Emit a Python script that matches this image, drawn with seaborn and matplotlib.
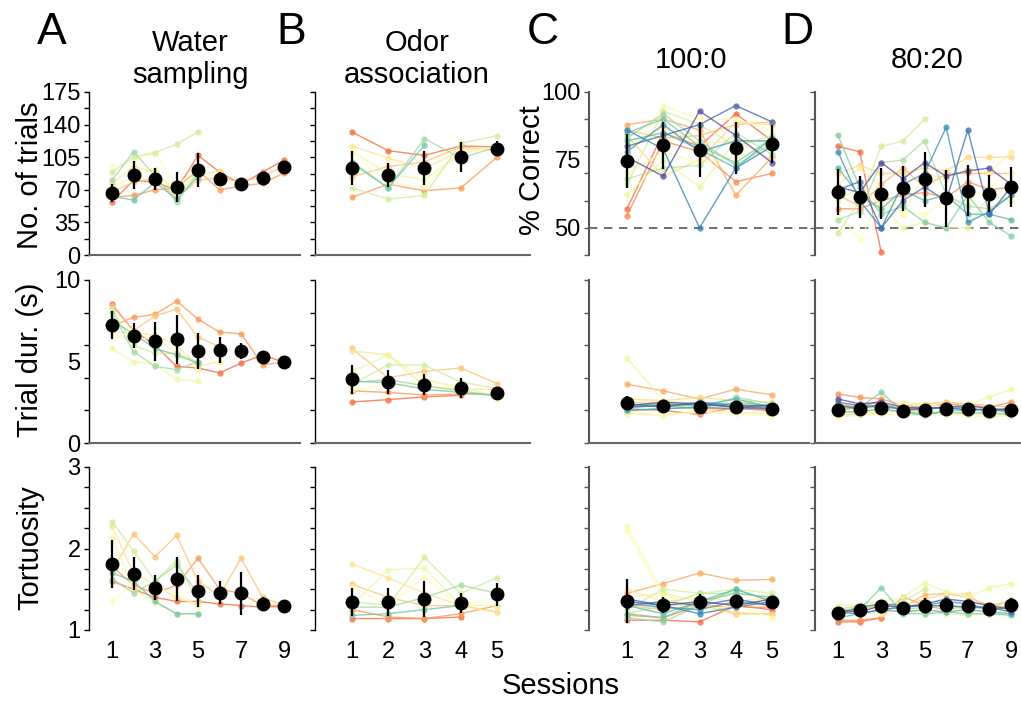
import numpy as np
import pandas as pd
import matplotlib
matplotlib.use("Agg")
import matplotlib.pyplot as plt
import seaborn as sns

sns.set_style("white")
plt.rcParams["font.family"] = ["Liberation Sans", "DejaVu Sans"]
plt.rcParams["text.color"] = "black"
plt.rcParams["axes.labelcolor"] = "black"
plt.rcParams["xtick.color"] = "black"
plt.rcParams["ytick.color"] = "black"

nan = np.nan

# ---------------- Water sampling (A) ----------------
ws_sessions = [1, 2, 3, 4, 5, 6, 7, 8, 9]
ws_trials_mean = [66.6, 86, 81.6, 73, 91, 81.6, 76, 82.7, 94.5]
ws_trials_err = [10, 15, 12, 16, 18, 7, 4, 4, 5]
ws_trials = [
    [57, 80, 78, 70, 107, 89, 76, 89, 102],
    [62, 64, 70, 72, 91, 70, 74, 77, 88],
    [68, 78, 82, 62, 80, 83, 78, 85, 95],
    [77, 95, 89, 68, 86, 90],
    [95.6, 100, 110, 75, 92],
    [72, 85, 92, 64, 90],
    [89, 105, 110, 119, 132],
    [80, 111, 85, 57, 88],
    [63, 59, 78, 60, 84],
]
ws_dur_mean = [7.23, 6.58, 6.25, 6.35, 5.66, 5.7, 5.66, 5.29, 4.94]
ws_dur_err = [0.87, 0.76, 1.2, 1.5, 1.1, 0.8, 0.5, 0.35, 0.0]
ws_dur = [
    [8.5, 6.9, 6.0, 4.7, 4.6, 4.3, 4.9, 5.4, 4.95],
    [7.2, 7.7, 7.9, 8.7, 7.6, 6.8, 6.7, 4.8, 4.95],
    [8.4, 6.9, 7.8, 8.2, 6.5, 5.9],
    [6.8, 6.8, 6.6, 6.0, 4.7, 5.0],
    [6.6, 6.3, 6.5, 5.5, 4.5],
    [5.8, 5.0, 4.8, 3.9, 3.8],
    [8.2, 6.0, 5.5, 5.5, 5.0],
    [8.0, 5.6, 4.7, 4.5, 5.0],
    [7.5, 6.7, 5.8, 5.4, 4.9],
]
ws_tort_mean = [1.81, 1.69, 1.52, 1.62, 1.48, 1.46, 1.45, 1.32, 1.29]
ws_tort_err = [0.29, 0.2, 0.15, 0.27, 0.2, 0.14, 0.26, 0.08, 0.0]
ws_tort = [
    [1.6, 1.5, 1.4, 1.35, 1.35, 1.32, 1.3, 1.28, 1.29],
    [1.78, 1.55, 1.45, 1.55, 1.88, 1.5, 1.45, 1.3, 1.3],
    [1.72, 2.18, 1.9, 2.16, 1.6, 1.42, 1.88, 1.4, 1.3],
    [2.27, 1.7, 1.55, 1.4, 1.3],
    [1.35, 1.6, 1.5, 1.45, 1.3],
    [2.13, 1.5, 1.33, 1.2, 1.2],
    [2.33, 1.97, 1.6, 1.85, 1.35],
    [1.63, 1.45, 1.6, 1.8, 1.45],
    [1.7, 1.6, 1.35, 1.2, 1.2],
]

# ---------------- Odor association (B) ----------------
oa_sessions = [1, 2, 3, 4, 5]
oa_trials_mean = [93.5, 86, 93.5, 105, 114]
oa_trials_err = [18, 13, 18, 16, 8]
oa_trials = [
    [132, 112, 107, 117, 116],
    [62, 76, 69, 72, 105],
    [84, 95, 100, 116, 112],
    [117, 104, 93, 112, 116],
    [109, 78, 73, 112, 115],
    [112, 87, 81, 109, 116],
    [72, 60, 64, 120, 128],
    [98, 72, 125, 104, 116],
    [100, 72, 118],
]
oa_dur_mean = [3.91, 3.75, 3.57, 3.36, 3.09]
oa_dur_err = [0.9, 0.75, 0.65, 0.6, 0.2]
oa_dur = [
    [2.52, 2.66, 2.83, 2.93],
    [3.2, 3.1, 2.95, 3.0, 3.0],
    [5.8, 4.0, 4.4, 4.6, 3.65],
    [5.65, 5.4, 3.5, 3.3, 3.3],
    [3.3, 3.5, 3.7, 3.5, 2.7],
    [4.36, 5.4, 3.9, 3.4, 2.9],
    [3.6, 4.8, 4.77, 3.75, 3.34],
    [3.7, 3.9, 3.5, 3.2, 2.9],
    [3.8, 3.7, 3.3, 3.1, 2.9],
]
oa_tort_mean = [1.34, 1.34, 1.38, 1.33, 1.44]
oa_tort_err = [0.17, 0.17, 0.22, 0.12, 0.14]
oa_tort = [
    [1.14, 1.14, 1.14, 1.16],
    [1.25, 1.16, 1.14, 1.2, 1.3],
    [1.56, 1.4, 1.3, 1.3, 1.22],
    [1.81, 1.64, 1.45, 1.3, 1.22],
    [1.53, 1.3, 1.65, 1.3, 1.4],
    [1.3, 1.74, 1.76, 1.3, 1.3],
    [1.35, 1.3, 1.89, 1.45, 1.64],
    [1.28, 1.28, 1.4, 1.55, 1.45],
    [1.18, 1.2, 1.25, 1.3],
]

# ---------------- 100:0 (C) ----------------
c100_sessions = [1, 2, 3, 4, 5]
c100_corr_mean = [74.5, 80.4, 78.8, 79.4, 81.0]
c100_corr_err = [10, 8.6, 10, 9.5, 7]
c100_corr = [
    [57, 85, 80, 92, 82],
    [54.5, 82, 78, 67, 70],
    [88, 90, 86, 62, 76],
    [86, 83, 84, 88, 89],
    [84, 69, 75, 89, 88],
    [80, 87, 81, 82, 75],
    [76, 95, 90, 90, 86],
    [70, 78, 74, 76, 80],
    [62, 75, 65, 82, 82],
    [66, 93, 88, 80, 84],
    [68, 72, 73, 85, 77],
    [83, 92, 82, 73, 81],
    [85, 90, 80, 74, 83],
    [82, 85, 79, 72, 83],
    [78, 88, 78, 82, 82],
    [86, 79, 50, 72, 80],
    [80, 84, 88, 95, 89],
    [76, 69, 93, 84, 74],
]
c100_dur_mean = [2.46, 2.27, 2.21, 2.21, 2.11]
c100_dur_err = [0.4, 0.2, 0.2, 0.2, 0.15]
c100_dur = [
    [2.1, 2.0, 1.75, 2.2, 2.0],
    [2.2, 2.3, 2.1, 2.1, 2.0],
    [3.6, 3.2, 2.7, 3.3, 2.95],
    [2.5, 2.5, 2.4, 2.3, 2.2],
    [2.7, 2.6, 2.8, 2.6, 2.5],
    [1.8, 1.7, 2.0, 1.9, 1.75],
    [2.0, 1.65, 1.9, 1.8, 1.65],
    [2.6, 2.4, 2.3, 2.4, 2.2],
    [5.2, 2.6, 2.4, 2.3, 2.2],
    [2.3, 2.2, 2.3, 2.2, 2.1],
    [2.4, 2.3, 2.5, 2.4, 2.3],
    [2.2, 2.3, 2.1, 2.8, 2.4],
    [2.0, 2.1, 2.2, 2.5, 2.3],
    [2.3, 2.4, 2.3, 2.7, 2.2],
    [2.0, 2.1, 2.2, 2.1, 2.2],
    [2.4, 2.2, 2.5, 2.3, 2.3],
    [2.2, 2.3, 2.4, 2.2, 2.1],
    [2.3, 2.5, 2.4, 2.2, 2.3],
]
c100_tort_mean = [1.36, 1.31, 1.34, 1.35, 1.34]
c100_tort_err = [0.27, 0.1, 0.1, 0.08, 0.08]
c100_tort = [
    [1.12, 1.12, 1.1, 1.3, 1.25],
    [1.2, 1.15, 1.3, 1.28, 1.28],
    [1.45, 1.57, 1.7, 1.61, 1.62],
    [1.3, 1.25, 1.3, 1.2, 1.2],
    [1.35, 1.3, 1.32, 1.22, 1.18],
    [1.5, 1.35, 1.4, 1.35, 1.4],
    [2.22, 1.4, 1.35, 1.3, 1.15],
    [2.27, 1.45, 1.25, 1.3, 1.3],
    [1.4, 1.45, 1.35, 1.3, 1.4],
    [1.25, 1.5, 1.45, 1.5, 1.45],
    [1.2, 1.3, 1.45, 1.45, 1.4],
    [1.15, 1.1, 1.3, 1.5, 1.35],
    [1.18, 1.15, 1.35, 1.45, 1.4],
    [1.3, 1.2, 1.35, 1.5, 1.35],
    [1.32, 1.28, 1.25, 1.35, 1.3],
    [1.35, 1.3, 1.2, 1.28, 1.35],
    [1.3, 1.35, 1.3, 1.38, 1.3],
    [1.38, 1.3, 1.35, 1.3, 1.38],
]

# ---------------- 80:20 (D) ----------------
c80_sessions = [1, 2, 3, 4, 5, 6, 7, 8, 9]
c80_corr_mean = [63.1, 61.4, 62.6, 64.5, 67.8, 60.8, 63.7, 62.6, 65.0]
c80_corr_err = [8.5, 7.8, 9.3, 8.4, 10, 10.6, 9.3, 6.7, 7.5]
c80_corr = [
    [80, 78, 41],
    [57, 57, 60, 62, 63, 61, 67, 64, 65],
    [62, 58, 66, 72, 65, 70, 70, 70, 70],
    [70, 73, 70, 70, 72, 71, 76, 76, 76],
    [66, 72, 65, 55, 70, 68, 72, 70, 78],
    [55, 46, 60, 56, 55, 60, 60, 65, 70],
    [60, 65, 58, 50, 52, 50, 50, 62, 60],
    [48, 60, 80, 82, 90],
    [53, 56, 74, 75, 82, 62, 58, 57, 62],
    [84, 65, 55, 58, 52, 50, 62, 52, 47],
    [72, 62, 57, 64, 60, 62, 55, 55, 53],
    [78, 60, 50, 66, 70, 87, 52, 56, 62],
    [64, 67, 50, 60, 65, 60, 86, 55, 65],
    [65, 63, 74, 68, 74, 69, 71, 72, 66],
]
c80_dur_mean = [2.05, 2.11, 2.17, 1.97, 2.01, 2.07, 2.11, 1.97, 2.05]
c80_dur_err = [0.3, 0.25, 0.3, 0.2, 0.25, 0.2, 0.2, 0.2, 0.25]
c80_dur = [
    [2.3, 2.2, 2.6],
    [3.0, 2.8, 2.7, 2.3, 2.2, 2.4, 2.3, 2.2, 2.5],
    [2.4, 2.3, 2.2, 2.3, 2.4, 2.5, 2.4, 2.3, 2.2],
    [1.7, 1.8, 1.9, 2.0, 1.9, 1.8, 1.9, 1.7, 1.8],
    [1.6, 1.7, 1.8, 1.7, 1.7, 1.8, 1.7, 1.6, 1.7],
    [1.9, 2.0, 1.9, 2.4, 2.3, 2.1, 2.2, 1.9, 2.0],
    [2.1, 2.2, 2.0, 2.5, 2.4, 2.2, 2.4, 2.8, 3.3],
    [2.2, 2.1, 2.3, 2.1, 2.0],
    [2.2, 2.1, 2.3, 2.1, 2.0, 2.3, 2.1, 2.0, 2.2],
    [2.0, 2.2, 3.1, 1.9, 1.8, 1.9, 1.8, 1.9, 1.7],
    [1.9, 1.9, 2.1, 1.9, 1.7, 2.0, 2.0, 2.1, 1.8],
    [2.5, 2.3, 2.2, 2.1, 2.2, 2.1, 2.2, 1.9, 2.2],
    [2.3, 2.1, 2.4, 2.0, 2.1, 2.2, 2.0, 2.1, 2.0],
    [2.7, 2.4, 2.5, 2.2, 2.1, 2.2, 2.3, 2.1, 2.0],
]
c80_tort_mean = [1.21, 1.24, 1.29, 1.27, 1.30, 1.31, 1.29, 1.26, 1.31]
c80_tort_err = [0.05, 0.06, 0.08, 0.07, 0.09, 0.08, 0.07, 0.06, 0.08]
c80_tort = [
    [1.1, 1.1, 1.15],
    [1.12, 1.12, 1.15, 1.41, 1.3, 1.25, 1.3, 1.25, 1.3],
    [1.2, 1.25, 1.3, 1.28, 1.43, 1.45, 1.4, 1.3, 1.35],
    [1.25, 1.3, 1.28, 1.3, 1.38, 1.44, 1.44, 1.25, 1.38],
    [1.28, 1.22, 1.2, 1.25, 1.22, 1.2, 1.18, 1.2, 1.25],
    [1.18, 1.22, 1.3, 1.25, 1.2, 1.22, 1.3, 1.28, 1.2],
    [1.3, 1.32, 1.35, 1.4, 1.58, 1.47, 1.4, 1.52, 1.57],
    [1.25, 1.3, 1.3, 1.35, 1.5],
    [1.22, 1.28, 1.32, 1.25, 1.28, 1.3, 1.25, 1.3, 1.28],
    [1.2, 1.25, 1.52, 1.2, 1.2, 1.22, 1.2, 1.2, 1.18],
    [1.15, 1.2, 1.25, 1.22, 1.25, 1.22, 1.25, 1.22, 1.2],
    [1.2, 1.28, 1.32, 1.3, 1.3, 1.35, 1.32, 1.25, 1.28],
    [1.22, 1.2, 1.25, 1.28, 1.3, 1.3, 1.28, 1.28, 1.22],
    [1.25, 1.22, 1.3, 1.28, 1.32, 1.38, 1.35, 1.3, 1.25],
]

# ---------------- figure ----------------
W, H = 1021, 703
fig = plt.figure(figsize=(W / 100, H / 100), dpi=100)
cmap = matplotlib.colormaps["Spectral"]

cols = {  # left px, right px, xlim
    "A": (89, 300, (-0.07, 9.74)),
    "B": (315, 530, (-0.02, 5.91)),
    "C": (589, 809, (-0.048, 6.02)),
    "D": (815, 1021, (-0.065, 9.46)),
}
rows = [(92, 255), (280, 443), (467, 630)]

def make_ax(col, row):
    l, r, xl = cols[col]
    t, b = rows[row]
    ax = fig.add_axes([l / W, 1 - b / H, (r - l) / W, (b - t) / H])
    ax.set_xlim(*xl)
    ax.patch.set_alpha(0)
    return ax

def draw(ax, sessions, traces, mean, err, cvals):
    recs = []
    for i, tr in enumerate(traces):
        for s, v in zip(sessions, tr):
            if not np.isnan(v):
                recs.append((f"s{i}", s, v))
    df = pd.DataFrame(recs, columns=["subject", "session", "value"])
    order = [f"s{i}" for i in range(len(traces))]
    pal = [cmap(v) for v in cvals]
    sns.lineplot(data=df, x="session", y="value", hue="subject", hue_order=order,
                 palette=pal, estimator=None, sort=True, marker="o", markersize=4.5,
                 markeredgewidth=0, linewidth=1.0, alpha=0.8, legend=False, ax=ax)
    ax.errorbar(sessions, mean, yerr=err, fmt="o", color="black", ms=9,
                elinewidth=1.6, capsize=0, zorder=10)
    ax.set_xlabel("")
    ax.set_ylabel("")

ylims = [(0, 175), (0, 10), (1, 3)]
ylabs = [([0, 35, 70, 105, 140, 175], np.linspace(0, 175, 11)),
         ([0, 5, 10], np.arange(0, 10.1, 2)),
         ([1, 2, 3], np.arange(1, 3.01, 0.25))]
corr_labs = ([50, 75, 100], np.arange(40, 100.1, 10))

datasets = {
    "A": (ws_sessions, [(ws_trials, ws_trials_mean, ws_trials_err),
                        (ws_dur, ws_dur_mean, ws_dur_err),
                        (ws_tort, ws_tort_mean, ws_tort_err)]),
    "B": (oa_sessions, [(oa_trials, oa_trials_mean, oa_trials_err),
                        (oa_dur, oa_dur_mean, oa_dur_err),
                        (oa_tort, oa_tort_mean, oa_tort_err)]),
    "C": (c100_sessions, [(c100_corr, c100_corr_mean, c100_corr_err),
                          (c100_dur, c100_dur_mean, c100_dur_err),
                          (c100_tort, c100_tort_mean, c100_tort_err)]),
    "D": (c80_sessions, [(c80_corr, c80_corr_mean, c80_corr_err),
                         (c80_dur, c80_dur_mean, c80_dur_err),
                         (c80_tort, c80_tort_mean, c80_tort_err)]),
}

TICK_FS = 17
for col, (sess, panels) in datasets.items():
    for r, (tr, mn, er) in enumerate(panels):
        ax = make_ax(col, r)
        if col in "AB":
            cvals = np.linspace(0.2, 0.78, len(tr))
            spine_c, spine_w = "black", 1.0
        else:
            cvals = np.linspace(0.2, 1.0, len(tr))
            spine_c, spine_w = "#555555", 1.5
        draw(ax, sess, tr, mn, er, cvals)
        if r == 0 and col in "CD":
            ax.set_ylim(40, 100)
            labs, minors = corr_labs
            ax.axhline(50, color="#555555", lw=1.2, ls=(0, (5, 4)), zorder=1)
        else:
            ax.set_ylim(*ylims[r])
            labs, minors = ylabs[r]
        ax.yaxis.remove_overlapping_locs = False
        ax.set_yticks(labs)
        ax.set_yticks(minors, minor=True)
        show_ylab = (col == "A") or (col == "C" and r == 0)
        if show_ylab:
            ax.set_yticklabels([str(v) for v in labs], fontsize=TICK_FS)
        else:
            ax.set_yticklabels([])
        ax.tick_params(axis="y", which="both", left=True)
        ax.tick_params(axis="y", which="major", length=0, pad=6)
        ax.tick_params(axis="y", which="minor", length=3.5, width=1, color=spine_c, direction="out")
        # x-axis
        if col in "AD":
            xt = [1, 3, 5, 7, 9]
        else:
            xt = [1, 2, 3, 4, 5]
        ax.set_xticks(xt)
        if r == 2:
            ax.set_xticklabels([str(v) for v in xt], fontsize=TICK_FS)
        else:
            ax.set_xticklabels([])
        ax.tick_params(axis="x", length=0, pad=8)
        for s in ["top", "right"]:
            ax.spines[s].set_visible(False)
        ax.spines["left"].set_color(spine_c)
        ax.spines["left"].set_linewidth(spine_w)
        show_bottom = (r == 1) or (r == 0 and col in "AB")
        ax.spines["bottom"].set_visible(show_bottom)
        ax.spines["bottom"].set_color("#666666")
        ax.spines["bottom"].set_linewidth(1.5)

def ftext(x, y, s, **kw):
    fig.text(x / W, 1 - y / H, s, **kw)

LAB_FS = 21
ftext(30, 175, "No. of trials", rotation=90, ha="center", va="center", fontsize=LAB_FS)
ftext(30, 360, "Trial dur. (s)", rotation=90, ha="center", va="center", fontsize=LAB_FS)
ftext(30, 548, "Tortuosity", rotation=90, ha="center", va="center", fontsize=LAB_FS)
ftext(532, 170, "% Correct", rotation=90, ha="center", va="center", fontsize=LAB_FS)
ftext(561, 686, "Sessions", ha="center", va="center", fontsize=LAB_FS)

ftext(190, 59, "Water\nsampling", ha="center", va="center", fontsize=LAB_FS, linespacing=1.15)
ftext(417, 59, "Odor\nassociation", ha="center", va="center", fontsize=LAB_FS, linespacing=1.15)
ftext(691, 60, "100:0", ha="center", va="center", fontsize=LAB_FS)
ftext(927, 60, "80:20", ha="center", va="center", fontsize=LAB_FS)

for L, x in [("A", 52), ("B", 291), ("C", 543), ("D", 797)]:
    ftext(x, 33, L, ha="center", va="center", fontsize=32)

fig.savefig("out.png", dpi=100)
